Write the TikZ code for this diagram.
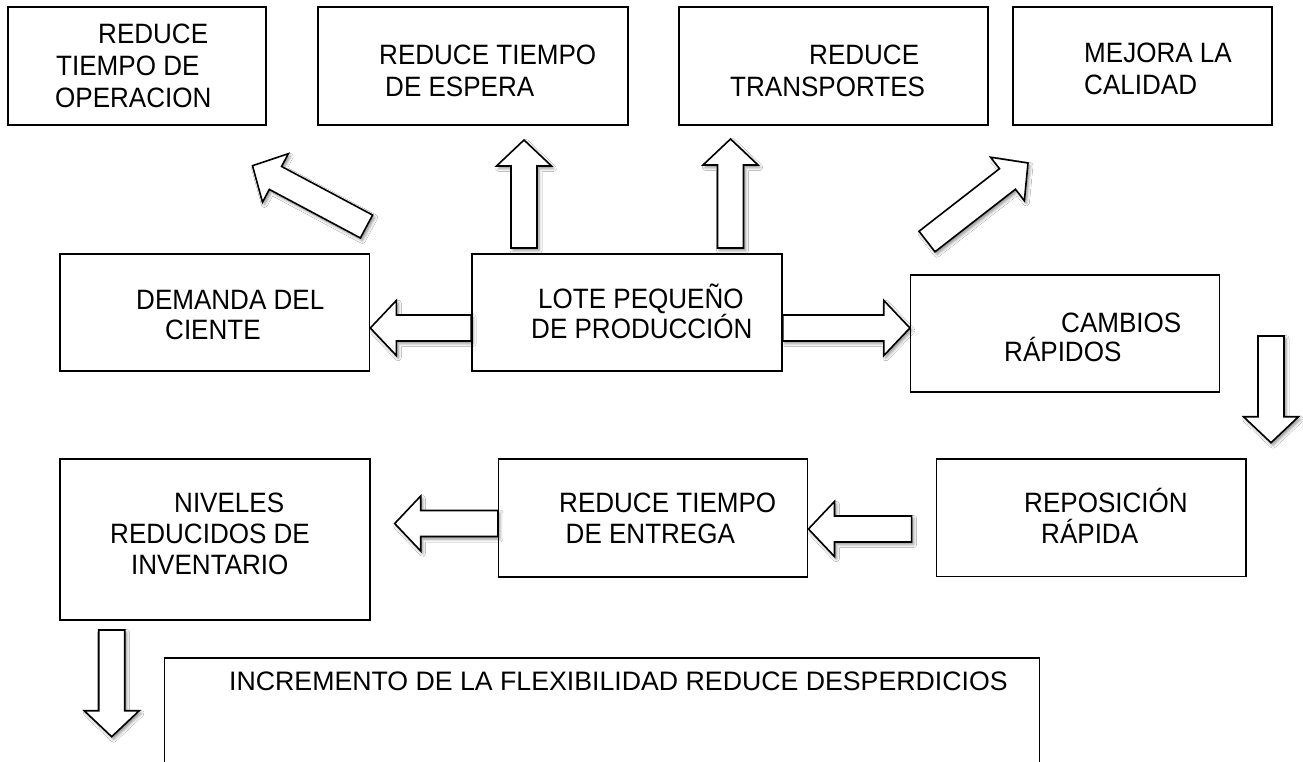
\documentclass[tikz,border=0pt]{standalone}
\usepackage{fontspec}
\setmainfont{Liberation Sans}
\newfontfamily\condfont[FakeStretch=0.93]{Liberation Sans}
\usetikzlibrary{calc,shadows.blur}
\tikzset{
  box/.style={draw=black, line width=1.6pt, fill=white, rectangle, inner sep=0pt},
  lbl/.style={anchor=base west, inner sep=0pt, font=\condfont\fontsize{28}{32}\selectfont},
  lblwide/.style={anchor=base west, inner sep=0pt, font=\fontsize{26.7}{32}\selectfont},
  barrow/.style={draw=black, line width=1.6pt, fill=white, line join=miter,
    blur shadow={shadow xshift=2pt, shadow yshift=-2.5pt, shadow blur radius=3pt, shadow opacity=45}},
}
\newcommand{\blockarr}[2]{%
  \coordinate (hb) at ($(#2)!26pt!(#1)$);
  \path[barrow] ($(#1)!13pt!90:(#2)$) -- ($(hb)!13pt!90:(#2)$) -- ($(hb)!27.5pt!90:(#2)$)
    -- (#2) -- ($(hb)!27.5pt!-90:(#2)$) -- ($(hb)!13pt!-90:(#2)$) -- ($(#1)!13pt!-90:(#2)$) -- cycle;}
\begin{document}
\begin{tikzpicture}[x=1pt,y=-1pt]
\useasboundingbox (0,0) rectangle (1303,761);
\clip (0,0) rectangle (1303,761);
\fill[white] (0,0) rectangle (1303,761);
% boxes
\node[box, minimum width=258pt, minimum height=118pt] (b1) at (137,66) {};
\node[box, minimum width=310pt, minimum height=118pt] (b2) at (473,66) {};
\node[box, minimum width=309pt, minimum height=118pt] (b3) at (833.5,66) {};
\node[box, minimum width=259pt, minimum height=118pt] (b4) at (1142.5,66) {};
\node[box, minimum width=309.5pt, minimum height=117pt] (dem) at (214.75,312.5) {};
\node[box, minimum width=310pt, minimum height=117pt] (lote) at (627,312.5) {};
\node[box, minimum width=308.7pt, minimum height=117pt] (camb) at (1065,333.5) {};
\node[box, minimum width=310pt, minimum height=161pt] (niv) at (215,539.5) {};
\node[box, minimum width=309pt, minimum height=118pt] (ent) at (653.15,518) {};
\node[box, minimum width=309.5pt, minimum height=117.5pt] (rep) at (1091.25,517.75) {};
\node[box, minimum width=875.2pt, minimum height=200pt, anchor=north west] (bot) at (163.5,657) {};
% texts
\node[lbl] (t1a) at (98,43) {REDUCE};
\node[lbl] (t1b) at (56,75) {TIEMPO DE};
\node[lbl] (t1c) at (55,107) {OPERACION};
\node[lbl] (t2a) at (379,64) {REDUCE TIEMPO};
\node[lbl] (t2b) at (385,96) {DE ESPERA};
\node[lbl] (t3a) at (809,64) {REDUCE};
\node[lbl] (t3b) at (730,96) {TRANSPORTES};
\node[lbl] (t4a) at (1084,62) {MEJORA LA};
\node[lbl] (t4b) at (1084,94) {CALIDAD};
\node[lbl] (tda) at (136,309) {DEMANDA DEL};
\node[lbl] (tdb) at (165,339) {CIENTE};
\node[lbl] (tla) at (538,308) {LOTE PEQUEÑO};
\node[lbl] (tlb) at (531,338) {DE PRODUCCIÓN};
\node[lbl] (tca) at (1061,332) {CAMBIOS};
\node[lbl] (tcb) at (1004,361) {RÁPIDOS};
\node[lbl] (tna) at (174,512) {NIVELES};
\node[lbl] (tnb) at (110,543) {REDUCIDOS DE};
\node[lbl] (tnc) at (131,574) {INVENTARIO};
\node[lbl] (tea) at (559,512) {REDUCE TIEMPO};
\node[lbl] (teb) at (565.5,543) {DE ENTREGA};
\node[lbl] (tra) at (1024,512) {REPOSICIÓN};
\node[lbl] (trb) at (1041,543) {RÁPIDA};
\node[lblwide] (tbot) at (229,690.5) {INCREMENTO DE LA FLEXIBILIDAD REDUCE DESPERDICIOS};
% arrow end points
\coordinate (a1s) at (366.5,226.5); \coordinate (a1e) at (252.5,165.7);
\coordinate (a2s) at (524,248);     \coordinate (a2e) at (524,140);
\coordinate (a3s) at (730.5,248);   \coordinate (a3e) at (730.5,139);
\coordinate (a4s) at (927,241.5);   \coordinate (a4e) at (1028,163);
\coordinate (a5s) at ($(lote.west)+(0,15.5)$); \coordinate (a5e) at ($(dem.east)+(0,15.5)$);
\coordinate (a6s) at ($(lote.east)+(0,15.5)$); \coordinate (a6e) at ($(camb.west)+(0,-5.5)$);
\coordinate (a7s) at (1271,336);    \coordinate (a7e) at (1271,442.7);
\coordinate (a8s) at ($(ent.west)+(0,5.5)$);   \coordinate (a8e) at (394.7,523.5);
\coordinate (a9s) at (911.6,529);   \coordinate (a9e) at ($(ent.east)+(0,11)$);
\coordinate (a10s) at (111.7,630);  \coordinate (a10e) at (111.7,736.7);
\blockarr{a1s}{a1e}
\blockarr{a2s}{a2e}
\blockarr{a3s}{a3e}
\blockarr{a4s}{a4e}
\blockarr{a5s}{a5e}
\blockarr{a6s}{a6e}
\blockarr{a7s}{a7e}
\blockarr{a8s}{a8e}
\blockarr{a9s}{a9e}
\blockarr{a10s}{a10e}
\end{tikzpicture}
\end{document}
